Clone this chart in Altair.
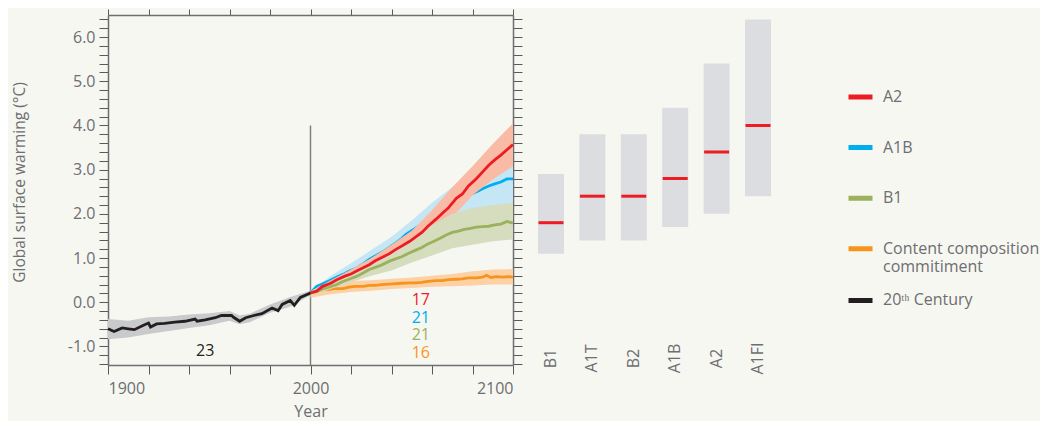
import altair as alt
import pandas as pd

FONT = "Open Sans"
BG = "#f7f7f2"
TXT = "#6d6e71"

# ---------------- data ----------------
hist_years = [1900, 1903, 1907, 1910, 1913, 1917, 1920, 1921, 1924, 1928, 1933, 1938, 1943, 1944, 1948,
              1953, 1956, 1961, 1962, 1965, 1968, 1972, 1976, 1981, 1984, 1986, 1990, 1992, 1995, 2000]
hist_vals = [-0.60, -0.66, -0.58, -0.60, -0.62, -0.53, -0.47, -0.56, -0.49, -0.48, -0.45, -0.43, -0.38, -0.43, -0.40,
             -0.35, -0.30, -0.30, -0.34, -0.43, -0.35, -0.30, -0.26, -0.13, -0.19, -0.05, 0.04, -0.07, 0.11, 0.21]

hist_band_years = [1900, 1910, 1920, 1930, 1940, 1950, 1960, 1965, 1970, 1980, 1990, 2000]
hist_band_lo = [-0.84, -0.80, -0.72, -0.65, -0.58, -0.52, -0.42, -0.50, -0.45, -0.24, -0.10, 0.16]
hist_band_hi = [-0.38, -0.42, -0.34, -0.32, -0.28, -0.25, -0.20, -0.30, -0.26, -0.05, 0.12, 0.26]

a2_years = [2000, 2003, 2006, 2010, 2013, 2017, 2020, 2023, 2026, 2029, 2032, 2036, 2039, 2042, 2045, 2049,
            2052, 2055, 2058, 2062, 2065, 2068, 2072, 2075, 2078, 2082, 2085, 2088, 2091, 2094, 2097, 2100]
a2_vals = [0.21, 0.25, 0.36, 0.43, 0.51, 0.59, 0.64, 0.71, 0.78, 0.85, 0.94, 1.03, 1.10, 1.19, 1.27, 1.38,
           1.48, 1.58, 1.72, 1.88, 2.01, 2.13, 2.35, 2.45, 2.63, 2.80, 2.95, 3.10, 3.22, 3.33, 3.45, 3.57]

a1b_years = [2000, 2003, 2006, 2009, 2013, 2016, 2019, 2023, 2026, 2029, 2032, 2036, 2039, 2042, 2045, 2047,
             2050, 2054, 2058, 2062, 2066, 2070, 2074, 2078, 2082, 2085, 2088, 2091, 2094, 2097, 2100]
a1b_vals = [0.21, 0.36, 0.42, 0.48, 0.57, 0.63, 0.70, 0.78, 0.87, 0.97, 1.05, 1.15, 1.24, 1.34, 1.44, 1.53,
            1.62, 1.74, 1.86, 1.98, 2.10, 2.22, 2.33, 2.42, 2.50, 2.57, 2.63, 2.68, 2.72, 2.79, 2.79]

b1_years = [2000, 2003, 2006, 2009, 2013, 2016, 2019, 2023, 2026, 2029, 2032, 2035, 2039, 2042, 2045, 2049,
            2052, 2055, 2058, 2061, 2064, 2067, 2070, 2073, 2076, 2079, 2082, 2085, 2088, 2091, 2094, 2097, 2100]
b1_vals = [0.21, 0.24, 0.30, 0.34, 0.40, 0.47, 0.52, 0.59, 0.66, 0.74, 0.79, 0.84, 0.93, 0.98, 1.03, 1.12,
           1.18, 1.24, 1.32, 1.38, 1.45, 1.52, 1.58, 1.61, 1.65, 1.67, 1.70, 1.71, 1.72, 1.75, 1.77, 1.83, 1.79]

cc_years = [2000, 2003, 2006, 2009, 2012, 2016, 2019, 2022, 2026, 2029, 2032, 2035, 2039, 2042, 2045, 2049,
            2052, 2055, 2058, 2062, 2065, 2068, 2072, 2075, 2078, 2082, 2085, 2087, 2089, 2092, 2095, 2098, 2100]
cc_vals = [0.21, 0.27, 0.28, 0.29, 0.31, 0.31, 0.34, 0.36, 0.36, 0.38, 0.38, 0.40, 0.41, 0.42, 0.43, 0.44,
           0.44, 0.45, 0.47, 0.49, 0.49, 0.51, 0.52, 0.53, 0.55, 0.55, 0.57, 0.61, 0.56, 0.58, 0.57, 0.58, 0.57]

band_years = [2000, 2010, 2020, 2030, 2040, 2050, 2060, 2070, 2080, 2090, 2100]
a2_lo = [0.17, 0.36, 0.54, 0.74, 0.98, 1.22, 1.52, 1.92, 2.42, 2.78, 3.08]
a2_hi = [0.25, 0.50, 0.74, 1.00, 1.30, 1.62, 2.08, 2.60, 3.08, 3.58, 4.05]
a1b_lo = [0.17, 0.38, 0.55, 0.75, 0.98, 1.22, 1.45, 1.70, 1.95, 2.15, 2.25]
a1b_hi = [0.25, 0.60, 0.88, 1.18, 1.48, 1.85, 2.25, 2.60, 2.90, 3.05, 3.15]
b1_lo = [0.15, 0.30, 0.45, 0.60, 0.72, 0.90, 1.06, 1.22, 1.30, 1.38, 1.42]
b1_hi = [0.25, 0.46, 0.68, 0.92, 1.12, 1.45, 1.75, 2.00, 2.13, 2.20, 2.25]
cc_lo = [0.10, 0.18, 0.23, 0.26, 0.30, 0.32, 0.35, 0.36, 0.38, 0.40, 0.40]
cc_hi = [0.26, 0.42, 0.48, 0.50, 0.53, 0.56, 0.60, 0.64, 0.70, 0.74, 0.75]

series_names = ["A2", "A1B", "B1", "Content composition commitiment", "20th Century"]
series_colors = ["#ed1c24", "#00aeef", "#9bb15c", "#f7941d", "#231f20"]
band_colors = {"A2": "#f9bba6", "A1B": "#c4e6f5", "B1": "#d6dcbe",
               "Content composition commitiment": "#fdd1a6", "20th Century": "#c9cacc"}

# model counts annotations
ann_text = ["23", "17", "21", "21", "16"]
ann_year = [1948, 2054.5, 2054.5, 2054.5, 2054.5]
ann_val = [-1.10, 0.05, -0.36, -0.75, -1.15]
ann_color = ["#231f20", "#ed1c24", "#00aeef", "#9bb15c", "#f7941d"]

vline_year = [2000]
vline_lo = [-1.42]
vline_hi = [4.0]

scenarios = ["B1", "A1T", "B2", "A1B", "A2", "A1FI"]
scen_best = [1.8, 2.4, 2.4, 2.8, 3.4, 4.0]
scen_lo = [1.1, 1.4, 1.4, 1.7, 2.0, 2.4]
scen_hi = [2.9, 3.8, 3.8, 4.4, 5.4, 6.4]

x_ticks = list(range(1900, 2101, 20))
y_ticks = [round(-1.4 + 0.2 * i, 1) for i in range(40)]

# ---------------- helpers ----------------
xs = alt.Scale(domain=[1900, 2100], nice=False, zero=False)
ys = alt.Scale(domain=[-1.42, 6.5], nice=False, zero=False)
cscale = alt.Scale(domain=series_names, range=series_colors)

legend = alt.Legend(
    title=None, orient="none", legendX=738, legendY=57,
    symbolType="stroke", symbolSize=576, symbolStrokeWidth=5,
    labelFont=FONT, labelFontSize=16, labelColor=TXT, labelLimit=400,
    labelOffset=8, rowPadding=0.6, clipHeight=50, padding=0,
    labelExpr="datum.label == 'Content composition commitiment' ? ['Content composition', 'commitiment'] : (datum.label == '20th Century' ? '20\u1d57\u02b0 Century' : datum.label)",
)


def line_df(name, years, vals):
    return pd.DataFrame({"year": years, "val": vals, "series": name})


def band_df(years, lo, hi):
    return pd.DataFrame({"year": years, "lo": lo, "hi": hi})


def band_layer(name, years, lo, hi):
    return alt.Chart(band_df(years, lo, hi)).mark_area(color=band_colors[name], opacity=1).encode(
        x=alt.X("year:Q", scale=xs, axis=None),
        y=alt.Y("lo:Q", scale=ys, axis=None),
        y2="hi:Q",
    )


def line_layer(name, years, vals):
    return alt.Chart(line_df(name, years, vals)).mark_line(strokeWidth=2.8).encode(
        x=alt.X("year:Q", scale=xs, axis=None),
        y=alt.Y("val:Q", scale=ys, axis=None),
        color=alt.Color("series:N", scale=cscale, legend=legend),
    )


# main axes (bottom / left) on the 20th-century band
hist_band = alt.Chart(band_df(hist_band_years, hist_band_lo, hist_band_hi)).mark_area(
    color=band_colors["20th Century"], opacity=1).encode(
    x=alt.X("year:Q", scale=xs, axis=alt.Axis(
        orient="bottom", values=x_ticks, format="d", title="Year",
        labelExpr="datum.value % 100 == 0 ? datum.label : ''",
        tickSize=9, labelPadding=6, titlePadding=7, grid=False)),
    y=alt.Y("lo:Q", scale=ys, axis=alt.Axis(
        orient="left", values=y_ticks, title="Global surface warming (°C)",
        labelExpr="abs(datum.value - round(datum.value)) < 0.01 ? (datum.value < -0.01 ? '-' + format(abs(datum.value), '.1f') : format(datum.value, '.1f')) : ''",
        tickSize=9, labelPadding=4, titlePadding=40, titleY=167, titleFontSize=15.5, grid=False)),
    y2="hi:Q",
)

# mirror axes (top / right) on the vertical rule
vrule = alt.Chart(pd.DataFrame({"year": vline_year, "lo": vline_lo, "hi": vline_hi})).mark_rule(
    color="#808080", strokeWidth=1.5).encode(
    x=alt.X("year:Q", scale=xs, axis=alt.Axis(orient="top", values=x_ticks, labels=False,
                                                tickSize=6, title=None, grid=False)),
    y=alt.Y("lo:Q", scale=ys, axis=alt.Axis(orient="right", values=y_ticks, labels=False,
                                              tickSize=9, title=None, grid=False)),
    y2="hi:Q",
)

ann = alt.Chart(pd.DataFrame({"year": ann_year, "val": ann_val, "t": ann_text, "c": ann_color})).mark_text(
    font=FONT, fontSize=16, align="center", baseline="middle").encode(
    x=alt.X("year:Q", scale=xs, axis=None),
    y=alt.Y("val:Q", scale=ys, axis=None),
    text="t:N",
    color=alt.Color("c:N", scale=None, legend=None),
)

left = alt.layer(
    hist_band,
    vrule,
    band_layer("Content composition commitiment", band_years, cc_lo, cc_hi),
    line_layer("Content composition commitiment", cc_years, cc_vals),
    band_layer("A1B", band_years, a1b_lo, a1b_hi),
    line_layer("A1B", a1b_years, a1b_vals),
    band_layer("A2", band_years, a2_lo, a2_hi),
    band_layer("B1", band_years, b1_lo, b1_hi),
    line_layer("B1", b1_years, b1_vals),
    line_layer("A2", a2_years, a2_vals),
    line_layer("20th Century", hist_years, hist_vals),
    ann,
).resolve_axis(x="independent", y="independent").properties(width=405, height=350)

bars_df = pd.DataFrame({"scenario": scenarios, "lo": scen_lo, "hi": scen_hi, "best": scen_best})
bx = alt.X("scenario:N", sort=scenarios,
           scale=alt.Scale(paddingInner=0.372, paddingOuter=0.362),
           axis=alt.Axis(orient="bottom", title=None, domain=False, ticks=False, tickSize=0,
                         labelAngle=270, labelAlign="center", labelBaseline="middle",
                         labelPadding=-7, labelFont=FONT, labelFontSize=16, labelColor=TXT))
bars = alt.Chart(bars_df).mark_bar(color="#dcdde0", opacity=1).encode(
    x=bx, y=alt.Y("lo:Q", scale=ys, axis=None), y2="hi:Q")
medians = alt.Chart(bars_df).mark_tick(color="#ed1c24", thickness=3, size=25, opacity=1).encode(
    x=bx, y=alt.Y("best:Q", scale=ys, axis=None))
right = alt.layer(bars, medians).properties(width=263, height=350)

chart = alt.hconcat(left, right, spacing=0).resolve_scale(y="independent").configure(
    background=BG, padding={"left": 4, "top": 0, "right": 0, "bottom": 2}
).configure_view(stroke=None).configure_axis(
    labelFont=FONT, labelFontSize=16, labelColor=TXT, titleFont=FONT, titleFontSize=16,
    titleColor=TXT, titleFontWeight="normal", domainColor="#6d6e71", domainWidth=1.5,
    tickColor="#58595b", tickWidth=1,
)

chart.save("out.html", embed_options={"renderer": "svg", "actions": False})
